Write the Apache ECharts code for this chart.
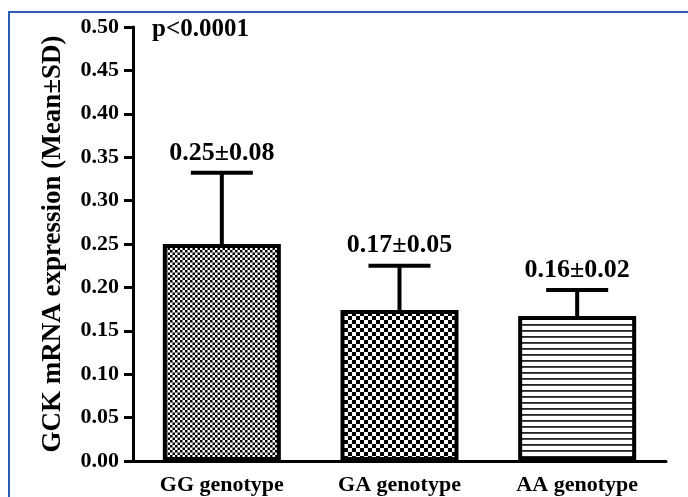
<!DOCTYPE html>
<html>
<head>
<meta charset="utf-8">
<script src="https://cdn.jsdelivr.net/npm/echarts@6/dist/echarts.min.js"></script>
<style>
html,body{margin:0;padding:0;background:#fff;}
#chart{width:688px;height:497px;}
</style>
</head>
<body>
<div id="chart"></div>
<script>
// Data
const categories = ['GG genotype', 'GA genotype', 'AA genotype'];
const means = [0.25, 0.174, 0.167];
const errTops = [0.332, 0.225, 0.197];
const barLabels = ['0.25±0.08', '0.17±0.05', '0.16±0.02'];
const yTicks = ['0.00','0.05','0.10','0.15','0.20','0.25','0.30','0.35','0.40','0.45','0.50'];
const pText = 'p<0.0001';

function makePattern(kind) {
  const c = document.createElement('canvas');
  const ctx = c.getContext('2d');
  if (kind === 'fine') {
    c.width = 5; c.height = 5;
    ctx.fillStyle = '#fff'; ctx.fillRect(0,0,5,5);
    ctx.fillStyle = '#000';
    ctx.fillRect(0,0,2.5,2.5); ctx.fillRect(2.5,2.5,2.5,2.5);
  } else if (kind === 'coarse') {
    c.width = 8; c.height = 8;
    ctx.fillStyle = '#fff'; ctx.fillRect(0,0,8,8);
    ctx.fillStyle = '#000';
    ctx.fillRect(0,0,4,4); ctx.fillRect(4,4,4,4);
  } else {
    c.width = 6; c.height = 6;
    ctx.fillStyle = '#fff'; ctx.fillRect(0,0,6,6);
    ctx.fillStyle = '#222';
    ctx.fillRect(0,0,6,1.8);
  }
  return {image: c, repeat: 'repeat'};
}
const patterns = [makePattern('fine'), makePattern('coarse'), makePattern('lines')];

const FONT = 'Liberation Serif';
const chart = echarts.init(document.getElementById('chart'), null, {renderer: 'canvas'});

const option = {
  animation: false,
  backgroundColor: '#fff',
  grid: {left: 133, right: 22, top: 27, bottom: 36, containLabel: false},
  xAxis: {
    type: 'category',
    data: categories,
    axisLine: {lineStyle: {color: '#000', width: 3}},
    axisTick: {alignWithLabel: true, length: 7, lineStyle: {color: '#000', width: 3}},
    axisLabel: {color: '#000', fontFamily: FONT, fontWeight: 'bold', fontSize: 22, margin: 13, interval: 0}
  },
  yAxis: {
    type: 'value',
    min: 0, max: 0.5, interval: 0.05,
    name: 'GCK mRNA expression (Mean±SD)',
    nameLocation: 'middle',
    nameGap: 66,
    nameTextStyle: {color: '#000', fontFamily: FONT, fontWeight: 'bold', fontSize: 27},
    axisLine: {show: true, lineStyle: {color: '#000', width: 3}},
    axisTick: {show: true, length: 9, lineStyle: {color: '#000', width: 3}},
    splitLine: {show: false},
    axisLabel: {
      color: '#000', fontFamily: FONT, fontWeight: 'bold', fontSize: 22, margin: 14,
      formatter: function (v) { return yTicks[Math.round(v / 0.05)]; }
    }
  },
  graphic: [
    {type: 'polyline', shape: {points: [[9, 497], [9, 12], [688, 12]]},
     style: {stroke: '#2f5db3', lineWidth: 2, fill: null}, z: 100},
    {type: 'text', left: 152, top: 17,
     style: {text: pText, font: 'bold 25px "Liberation Serif"', fill: '#000'}}
  ],
  series: [
    {
      type: 'bar',
      barWidth: 118,
      data: means.map(function (v, i) {
        return {value: v, itemStyle: {color: patterns[i]}};
      }),
      itemStyle: {borderColor: '#000', borderWidth: 4},
      z: 2
    },
    {
      type: 'custom',
      data: means.map(function (v, i) { return [i, v, errTops[i]]; }),
      encode: {x: 0, y: [1, 2]},
      z: 3,
      renderItem: function (params, api) {
        const i = api.value(0);
        const b = api.coord([i, api.value(1)]);
        const t = api.coord([i, api.value(2)]);
        const half = 31;
        return {
          type: 'group',
          children: [
            {type: 'line', shape: {x1: b[0], y1: b[1], x2: t[0], y2: t[1]},
             style: {stroke: '#000', lineWidth: 4}},
            {type: 'line', shape: {x1: t[0] - half, y1: t[1], x2: t[0] + half, y2: t[1]},
             style: {stroke: '#000', lineWidth: 4}},
            {type: 'text', x: t[0], y: t[1] - 7,
             style: {text: barLabels[params.dataIndex], align: 'center', verticalAlign: 'bottom',
                     font: 'bold 26px "Liberation Serif"', fill: '#000'}}
          ]
        };
      }
    }
  ]
};
chart.setOption(option);
</script>
</body>
</html>
